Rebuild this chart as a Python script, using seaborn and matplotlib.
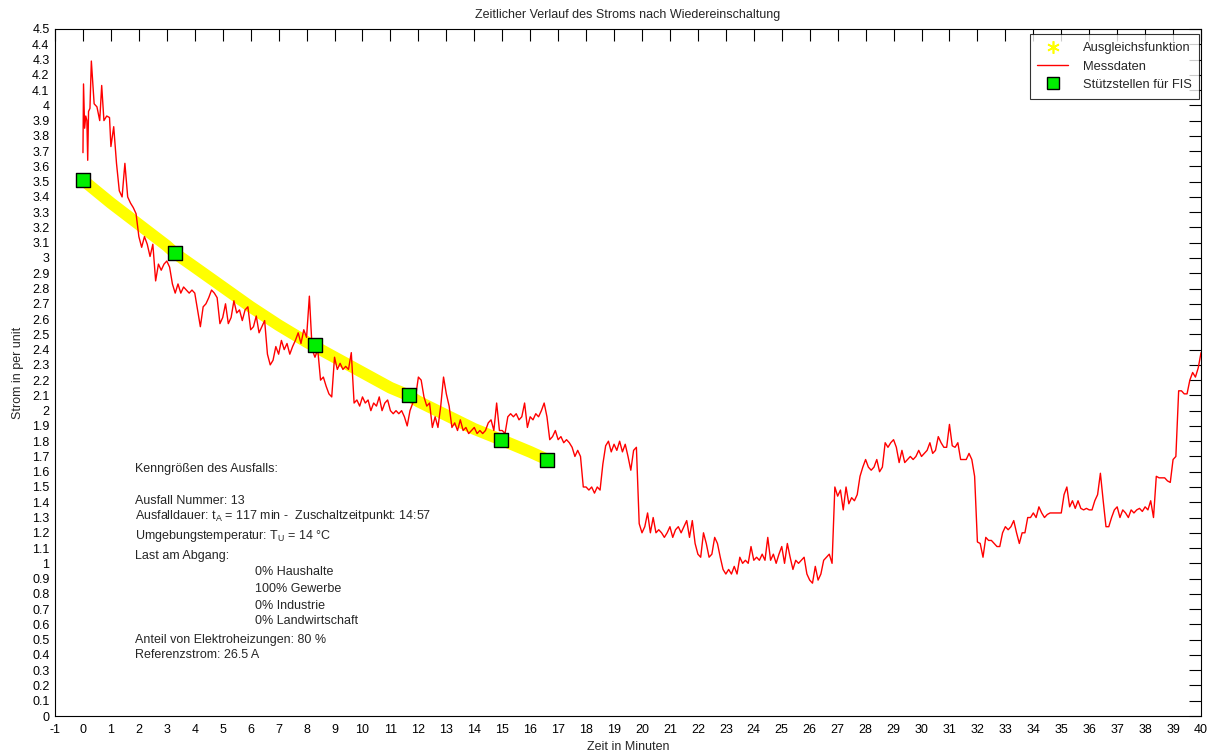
import numpy as np
import pandas as pd
import seaborn as sns
import matplotlib.pyplot as plt
from matplotlib.lines import Line2D

zeit_anfang = [0.0, 0.02, 0.06, 0.1, 0.14, 0.17, 0.2, 0.25, 0.3, 0.35, 0.4, 0.5, 0.6, 0.67, 0.75, 0.85, 0.95]
strom_anfang = [3.69, 4.14, 3.85, 3.93, 3.90, 3.64, 3.96, 3.98, 4.29, 4.15, 4.01, 3.99, 3.90, 4.13, 3.90, 3.93, 3.92]

strom_1_10 = [
    3.73, 3.86, 3.62, 3.44, 3.40, 3.62, 3.40, 3.36, 3.33, 3.29,
    3.14, 3.07, 3.14, 3.09, 3.01, 3.09, 2.85, 2.96, 2.92, 2.96,
    2.98, 2.94, 2.83, 2.77, 2.83, 2.77, 2.81, 2.79, 2.77, 2.79,
    2.77, 2.66, 2.55, 2.68, 2.70, 2.74, 2.79, 2.77, 2.74, 2.57,
    2.61, 2.70, 2.57, 2.61, 2.72, 2.64, 2.66, 2.59, 2.66, 2.68,
    2.53, 2.55, 2.62, 2.51, 2.55, 2.59, 2.37, 2.30, 2.33, 2.42,
    2.37, 2.46, 2.40, 2.44, 2.37, 2.42, 2.46, 2.51, 2.44, 2.53,
    2.48, 2.75, 2.40, 2.35, 2.40, 2.20, 2.22, 2.16, 2.11, 2.09,
    2.35, 2.27, 2.31, 2.27, 2.29, 2.27, 2.38, 2.05, 2.07, 2.03,
]
strom_10_20 = [
    2.09, 2.05, 2.07, 2.00, 2.05, 2.03, 2.09, 2.00, 2.05, 2.07,
    2.00, 1.98, 2.00, 1.98, 2.00, 1.96, 1.90, 2.00, 2.05, 2.09,
    2.22, 2.20, 2.09, 2.03, 2.05, 1.89, 1.96, 1.89, 2.03, 2.22,
    2.11, 2.03, 1.89, 1.92, 1.87, 1.94, 1.87, 1.89, 1.85, 1.87,
    1.89, 1.85, 1.87, 1.85, 1.87, 1.92, 1.94, 1.87, 2.05, 1.87,
    1.87, 1.85, 1.96, 1.98, 1.96, 1.98, 1.94, 1.96, 2.05, 1.89,
    1.96, 1.94, 1.98, 1.96, 2.00, 2.05, 1.96, 1.81, 1.83, 1.87,
    1.81, 1.83, 1.79, 1.81, 1.79, 1.76, 1.70, 1.74, 1.70, 1.50,
    1.50, 1.48, 1.50, 1.46, 1.50, 1.48, 1.65, 1.77, 1.80, 1.73,
    1.78, 1.74, 1.80, 1.73, 1.78, 1.70, 1.61, 1.74, 1.76, 1.26,
]
strom_20_30 = [
    1.20, 1.24, 1.33, 1.20, 1.30, 1.20, 1.22, 1.20, 1.17, 1.20,
    1.24, 1.17, 1.22, 1.24, 1.20, 1.24, 1.28, 1.17, 1.28, 1.13,
    1.06, 1.04, 1.20, 1.13, 1.04, 1.06, 1.17, 1.13, 1.04, 0.96,
    0.93, 0.96, 0.93, 0.98, 0.93, 1.04, 1.00, 1.02, 1.00, 1.11,
    1.02, 1.04, 1.02, 1.06, 1.02, 1.17, 1.02, 1.06, 1.00, 1.06,
    1.11, 1.00, 1.13, 1.04, 0.96, 1.02, 1.00, 1.02, 1.04, 0.93,
    0.89, 0.87, 0.98, 0.89, 0.93, 1.02, 1.04, 1.06, 1.00, 1.50,
    1.44, 1.48, 1.35, 1.50, 1.39, 1.43, 1.41, 1.45, 1.57, 1.63,
    1.68, 1.63, 1.61, 1.63, 1.68, 1.60, 1.63, 1.79, 1.76, 1.79,
    1.81, 1.76, 1.66, 1.74, 1.66, 1.68, 1.70, 1.68, 1.70, 1.74,
]
strom_30_40 = [
    1.70, 1.72, 1.74, 1.79, 1.72, 1.74, 1.83, 1.79, 1.76, 1.76,
    1.91, 1.77, 1.76, 1.79, 1.68, 1.68, 1.68, 1.72, 1.68, 1.57,
    1.14, 1.13, 1.04, 1.17, 1.15, 1.15, 1.13, 1.11, 1.11, 1.20,
    1.24, 1.22, 1.24, 1.28, 1.20, 1.13, 1.20, 1.20, 1.30, 1.30,
    1.33, 1.30, 1.37, 1.33, 1.30, 1.32, 1.33, 1.33, 1.33, 1.33,
    1.33, 1.45, 1.50, 1.37, 1.41, 1.36, 1.41, 1.36, 1.35, 1.36,
    1.35, 1.35, 1.41, 1.45, 1.59, 1.41, 1.24, 1.24, 1.30, 1.35,
    1.37, 1.30, 1.35, 1.33, 1.30, 1.35, 1.33, 1.35, 1.36, 1.34,
    1.37, 1.35, 1.41, 1.30, 1.57, 1.56, 1.56, 1.56, 1.54, 1.53,
    1.68, 1.70, 2.13, 2.13, 2.11, 2.11, 2.20, 2.25, 2.22, 2.28,
    2.38,
]

# Ausgleichsfunktion (gelb)
zeit_ausgleich = [0, 1, 2, 3, 3.3, 4, 5, 6, 7, 8, 8.3, 9, 10, 11, 11.65, 12, 13, 14, 14.95, 16, 16.6]
strom_ausgleich = [3.51, 3.36, 3.22, 3.08, 3.03, 2.94, 2.81, 2.68, 2.56, 2.45, 2.42, 2.35, 2.25, 2.15, 2.10,
                   2.06, 1.97, 1.88, 1.81, 1.73, 1.68]

# Stützstellen für FIS
zeit_stuetz = [0, 3.3, 8.3, 11.65, 14.95, 16.6]
strom_stuetz = [3.51, 3.03, 2.43, 2.10, 1.81, 1.68]

strom_rest = strom_1_10 + strom_10_20 + strom_20_30 + strom_30_40
zeit_rest = np.round(1.0 + 0.1 * np.arange(len(strom_rest)), 1)
df_mess = pd.DataFrame({'zeit': list(zeit_anfang) + list(zeit_rest),
                        'strom': strom_anfang + strom_rest})
df_aus = pd.DataFrame({'zeit': zeit_ausgleich, 'strom': strom_ausgleich})
df_st = pd.DataFrame({'zeit': zeit_stuetz, 'strom': strom_stuetz})

sns.set_style('white')
plt.rcParams['font.family'] = ['Liberation Sans', 'DejaVu Sans']
plt.rcParams['mathtext.fontset'] = 'custom'
plt.rcParams['mathtext.rm'] = 'Liberation Sans'
plt.rcParams['mathtext.it'] = 'Liberation Sans'
plt.rcParams['axes.unicode_minus'] = False

fig = plt.figure(figsize=(12.09, 7.51), dpi=100)
ax = fig.add_axes([0.0455, 0.0466, 0.9479, 0.9148])

sns.lineplot(data=df_aus, x='zeit', y='strom', color='yellow', lw=8.5, estimator=None,
             sort=False, ax=ax, zorder=2, solid_capstyle='butt')
sns.lineplot(data=df_mess, x='zeit', y='strom', color='red', lw=1.0, estimator=None,
             sort=False, ax=ax, zorder=3)
sns.scatterplot(data=df_st, x='zeit', y='strom', marker='s', s=95, color='#00ee00',
                edgecolor='black', linewidth=1.0, ax=ax, zorder=4)

ax.set_xlim(-1, 40)
ax.set_ylim(0, 4.5)
ax.set_xticks(np.arange(-1, 41, 1))
yt = np.round(np.arange(0, 4.51, 0.1), 1)
ax.set_yticks(yt)
ax.set_yticklabels([('%g' % v) for v in yt])
ax.tick_params(direction='in', length=8.5, width=0.8, top=True, right=True,
               labelsize=9, colors='black')
ax.tick_params(axis='x', pad=6)
ax.tick_params(axis='y', pad=4)
for s in ax.spines.values():
    s.set_color('black')
    s.set_linewidth(0.8)

ax.set_title('Zeitlicher Verlauf des Stroms nach Wiedereinschaltung', fontsize=9, pad=8)
ax.set_xlabel('Zeit in Minuten', fontsize=9, labelpad=3)
ax.set_ylabel('Strom in per unit', fontsize=9, labelpad=6)

# Textblock mit den Kenngrößen
tx = 1.86
fs = 9
ax.text(tx, 1.62, 'Kenngrößen des Ausfalls:', fontsize=fs, va='center')
ax.text(tx, 1.41, 'Ausfall Nummer: 13', fontsize=fs, va='center')
ax.text(tx, 1.31, r'Ausfalldauer: t$_\mathregular{A}$ = 117 min -  Zuschaltzeitpunkt: 14:57', fontsize=fs, va='center')
ax.text(tx, 1.18, r'Umgebungstemperatur: T$_\mathregular{U}$ = 14 °C', fontsize=fs, va='center')
ax.text(tx, 1.05, 'Last am Abgang:', fontsize=fs, va='center')
ax.text(6.15, 0.94, '0% Haushalte', fontsize=fs, va='center')
ax.text(6.15, 0.83, '100% Gewerbe', fontsize=fs, va='center')
ax.text(6.15, 0.72, '0% Industrie', fontsize=fs, va='center')
ax.text(6.15, 0.62, '0% Landwirtschaft', fontsize=fs, va='center')
ax.text(tx, 0.50, 'Anteil von Elektroheizungen: 80 %', fontsize=fs, va='center')
ax.text(tx, 0.40, 'Referenzstrom: 26.5 A', fontsize=fs, va='center')

handles = [
    Line2D([], [], color='yellow', marker=(6, 2, 0), markersize=9, markeredgewidth=1.2, linestyle='none'),
    Line2D([], [], color='red', lw=1.0),
    Line2D([], [], color='#00ee00', marker='s', markersize=8, markeredgecolor='black', linestyle='none'),
]
leg = ax.legend(handles, ['Ausgleichsfunktion', 'Messdaten', 'Stützstellen für FIS'],
                loc='upper right', bbox_to_anchor=(0.9985, 0.992), borderaxespad=0, fontsize=9.3,
                frameon=True, fancybox=False, handlelength=2.4, labelspacing=0.48,
                borderpad=0.6, handletextpad=1.1)
leg.get_frame().set_edgecolor('black')
leg.get_frame().set_linewidth(0.8)

fig.savefig('out.png', dpi=100)
